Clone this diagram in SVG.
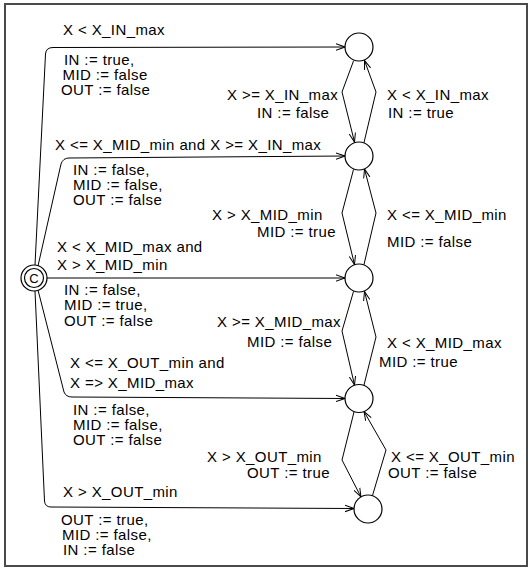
<svg xmlns="http://www.w3.org/2000/svg" width="528" height="569" viewBox="0 0 528 569">
<style>
text{font-family:"Liberation Sans",Arial,sans-serif;font-size:15px;letter-spacing:0.4px;fill:#000}
.loc{fill:#fff;stroke:#000;stroke-width:1.2}
.e{fill:none;stroke:#000;stroke-width:1}
</style>
<defs>
<marker id="arr" markerUnits="userSpaceOnUse" markerWidth="10" markerHeight="10" refX="9" refY="4" orient="auto">
<path d="M0,0.8 L9,4 L0,7.2" fill="none" stroke="#000" stroke-width="1"/>
</marker>
</defs>
<rect x="5" y="4" width="522" height="562" fill="#fff" stroke="#4a4a4a" stroke-width="2"/>
<g id="connectors">
<path class="e" marker-end="url(#arr)" d="M35,265 L45.5,54 Q46,47.5 53,47.5 L345,47"/>
<path class="e" marker-end="url(#arr)" d="M38,266 L61,164 Q63,158 69,158 L345,156"/>
<path class="e" marker-end="url(#arr)" d="M47,278 L345,278"/>
<path class="e" marker-end="url(#arr)" d="M38,290 L64,392 Q66,397 72,397 L345,398.5"/>
<path class="e" marker-end="url(#arr)" d="M35,291 L44.5,501 Q45,507 51,507 L354,508.5"/>
<path class="e" marker-end="url(#arr)" d="M353.5,61 L342,92 L354.5,142"/>
<path class="e" marker-end="url(#arr)" d="M364,142.5 L376,92 L364.5,60.5"/>
<path class="e" marker-end="url(#arr)" d="M353.5,169.5 L342,213 L354.5,264.5"/>
<path class="e" marker-end="url(#arr)" d="M364,264.5 L376,213 L364.5,169"/>
<path class="e" marker-end="url(#arr)" d="M353.5,291.5 L342,331 L354.5,385"/>
<path class="e" marker-end="url(#arr)" d="M364,385 L376,337 L364.5,291.5"/>
<path class="e" marker-end="url(#arr)" d="M354,412 L342,460 L361,497"/>
<path class="e" marker-end="url(#arr)" d="M372.5,495.5 L386,450 L364,411.5"/>
</g>
<g id="init">
<circle class="loc" cx="34" cy="278" r="13"/>
<circle class="loc" cx="34" cy="278" r="9.5"/>
<text x="34" y="283" text-anchor="middle" style="font-size:13px;letter-spacing:0">C</text>
</g>
<g id="n1"><circle class="loc" cx="359" cy="47" r="14"/></g>
<g id="n2"><circle class="loc" cx="359" cy="156" r="14"/></g>
<g id="n3"><circle class="loc" cx="359" cy="278" r="14"/></g>
<g id="n4"><circle class="loc" cx="359" cy="398.5" r="14"/></g>
<g id="n5"><circle class="loc" cx="368" cy="509" r="14"/></g>
<g id="labels">
<text x="63" y="35">X &lt; X_IN_max</text>
<text x="64" y="65">IN := true,</text>
<text x="62.5" y="80">MID := false</text>
<text x="61" y="95">OUT := false</text>
<text x="227" y="100">X &gt;= X_IN_max</text>
<text x="257" y="118">IN := false</text>
<text x="387" y="100">X &lt; X_IN_max</text>
<text x="388" y="118">IN := true</text>
<text x="55" y="150">X &lt;= X_MID_min and X &gt;= X_IN_max</text>
<text x="73" y="175">IN := false,</text>
<text x="73" y="190">MID := false,</text>
<text x="73" y="205">OUT := false</text>
<text x="212" y="220">X &gt; X_MID_min</text>
<text x="257" y="237">MID := true</text>
<text x="387" y="220">X &lt;= X_MID_min</text>
<text x="387" y="247">MID := false</text>
<text x="57" y="252">X &lt; X_MID_max and</text>
<text x="57" y="270">X &gt; X_MID_min</text>
<text x="64" y="295">IN := false,</text>
<text x="64" y="310">MID := true,</text>
<text x="64" y="326">OUT := false</text>
<text x="217" y="327">X &gt;= X_MID_max</text>
<text x="247" y="347">MID := false</text>
<text x="387" y="348">X &lt; X_MID_max</text>
<text x="379" y="367">MID := true</text>
<text x="70" y="368">X &lt;= X_OUT_min and</text>
<text x="70" y="388">X =&gt; X_MID_max</text>
<text x="73" y="415">IN := false,</text>
<text x="73" y="430">MID := false,</text>
<text x="73" y="445">OUT := false</text>
<text x="207" y="462">X &gt; X_OUT_min</text>
<text x="247" y="478">OUT := true</text>
<text x="391" y="462">X &lt;= X_OUT_min</text>
<text x="388" y="478">OUT := false</text>
<text x="63" y="497">X &gt; X_OUT_min</text>
<text x="61" y="525">OUT := true,</text>
<text x="62" y="540">MID := false,</text>
<text x="63" y="555">IN := false</text>
</g>
</svg>
